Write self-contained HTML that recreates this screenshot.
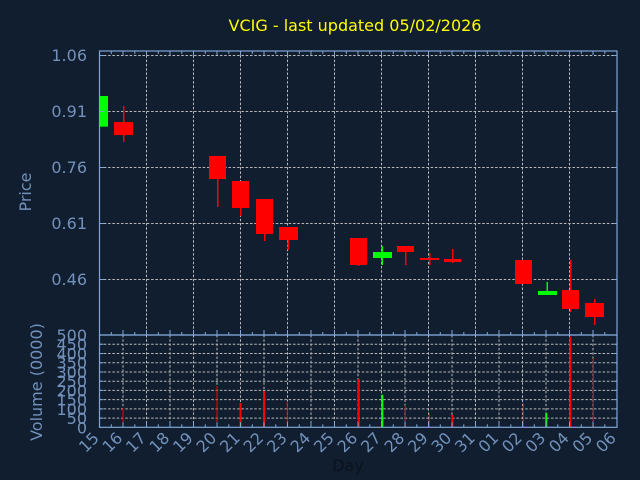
<!DOCTYPE html>
<html><head><meta charset="utf-8"><style>
html,body{margin:0;padding:0;background:#101e2f;}
svg{display:block;}
text{font-family:"DejaVu Sans","Liberation Sans",sans-serif;font-size:16px;}
</style></head><body>
<svg width="640" height="480" viewBox="0 0 640 480" xmlns="http://www.w3.org/2000/svg">
<rect width="640" height="480" fill="#101e2f"/>
<text x="355" y="31" text-anchor="middle" fill="#ffff00">VCIG - last updated 05/02/2026</text>

<!-- price grid -->
<g stroke="#b8b8b8" stroke-width="1" stroke-dasharray="2.5,1.8" fill="none">
<line x1="99.5" y1="55.5" x2="617" y2="55.5"/>
<line x1="99.5" y1="111.5" x2="617" y2="111.5"/>
<line x1="99.5" y1="167.5" x2="617" y2="167.5"/>
<line x1="99.5" y1="223.5" x2="617" y2="223.5"/>
<line x1="99.5" y1="279.5" x2="617" y2="279.5"/>
<line x1="146.5" y1="51" x2="146.5" y2="335"/>
<line x1="193.5" y1="51" x2="193.5" y2="335"/>
<line x1="240.5" y1="51" x2="240.5" y2="335"/>
<line x1="287.5" y1="51" x2="287.5" y2="335"/>
<line x1="334.5" y1="51" x2="334.5" y2="335"/>
<line x1="381.5" y1="51" x2="381.5" y2="335"/>
<line x1="428.5" y1="51" x2="428.5" y2="335"/>
<line x1="475.5" y1="51" x2="475.5" y2="335"/>
<line x1="522.5" y1="51" x2="522.5" y2="335"/>
<line x1="569.5" y1="51" x2="569.5" y2="335"/>
</g>

<!-- volume grid -->
<g stroke="#b8b8b8" stroke-width="1" stroke-dasharray="2.5,1.8" fill="none">
<line x1="99.5" y1="344.3" x2="617" y2="344.3"/>
<line x1="99.5" y1="353.5" x2="617" y2="353.5"/>
<line x1="99.5" y1="362.7" x2="617" y2="362.7"/>
<line x1="99.5" y1="372" x2="617" y2="372"/>
<line x1="99.5" y1="381.2" x2="617" y2="381.2"/>
<line x1="99.5" y1="390.4" x2="617" y2="390.4"/>
<line x1="99.5" y1="399.6" x2="617" y2="399.6"/>
<line x1="99.5" y1="408.9" x2="617" y2="408.9"/>
<line x1="99.5" y1="418.1" x2="617" y2="418.1"/>
<line x1="123" y1="335" x2="123" y2="427"/>
<line x1="146.5" y1="335" x2="146.5" y2="427"/>
<line x1="170" y1="335" x2="170" y2="427"/>
<line x1="193.5" y1="335" x2="193.5" y2="427"/>
<line x1="217" y1="335" x2="217" y2="427"/>
<line x1="240.5" y1="335" x2="240.5" y2="427"/>
<line x1="264" y1="335" x2="264" y2="427"/>
<line x1="287.5" y1="335" x2="287.5" y2="427"/>
<line x1="311" y1="335" x2="311" y2="427"/>
<line x1="334.5" y1="335" x2="334.5" y2="427"/>
<line x1="358" y1="335" x2="358" y2="427"/>
<line x1="381.5" y1="335" x2="381.5" y2="427"/>
<line x1="405" y1="335" x2="405" y2="427"/>
<line x1="428.5" y1="335" x2="428.5" y2="427"/>
<line x1="452" y1="335" x2="452" y2="427"/>
<line x1="475.5" y1="335" x2="475.5" y2="427"/>
<line x1="499" y1="335" x2="499" y2="427"/>
<line x1="522.5" y1="335" x2="522.5" y2="427"/>
<line x1="546" y1="335" x2="546" y2="427"/>
<line x1="569.5" y1="335" x2="569.5" y2="427"/>
<line x1="593" y1="335" x2="593" y2="427"/>
</g>

<!-- candles -->
<g fill="#ff0000">
<rect x="123" y="106" width="1.5" height="36"/>
<rect x="114" y="122" width="19" height="13"/>
<rect x="217" y="170" width="1.5" height="37"/>
<rect x="209" y="156" width="17" height="23"/>
<rect x="240" y="200" width="1.5" height="16"/>
<rect x="232" y="181" width="17" height="27"/>
<rect x="264" y="220" width="1.5" height="21"/>
<rect x="256" y="199" width="17" height="35"/>
<rect x="287.5" y="235" width="1.5" height="15"/>
<rect x="279" y="227" width="19" height="13"/>
<rect x="358" y="255" width="1.5" height="11"/>
<rect x="350" y="238" width="17" height="27"/>
<rect x="405" y="248" width="1.5" height="17"/>
<rect x="397" y="246" width="17" height="6"/>
<rect x="429" y="253" width="1.5" height="12"/>
<rect x="420" y="258" width="19" height="2"/>
<rect x="452" y="249" width="1.5" height="14"/>
<rect x="444" y="259" width="17" height="3"/>
<rect x="515" y="260" width="17" height="24"/>
<rect x="570" y="260" width="1.5" height="52"/>
<rect x="562" y="290" width="17" height="19"/>
<rect x="594" y="299" width="1.5" height="26"/>
<rect x="585" y="303" width="19" height="14"/>
</g>
<g fill="#00ff00">
<rect x="99.5" y="96" width="8.5" height="30.7"/>
<rect x="381.5" y="246" width="1.5" height="19"/>
<rect x="373" y="252" width="19" height="6"/>
<rect x="546.5" y="282" width="1.5" height="13"/>
<rect x="538" y="291" width="19" height="4"/>
</g>

<!-- volume bars -->
<g fill="#ff0000">
<rect x="122.5" y="408" width="1" height="19.3"/>
<rect x="216.5" y="386" width="1" height="41.3"/>
<rect x="239.5" y="403" width="2" height="24.3"/>
<rect x="263" y="391" width="2" height="36.3"/>
<rect x="286.8" y="401" width="1" height="26.3"/>
<rect x="357.7" y="379" width="2" height="48.3"/>
<rect x="404.8" y="405" width="1" height="22.3"/>
<rect x="428.8" y="413" width="1" height="14.3"/>
<rect x="451.3" y="415" width="2" height="12.3"/>
<rect x="522.8" y="403" width="1" height="24.3"/>
<rect x="569.3" y="336.7" width="2" height="90.6"/>
<rect x="592.8" y="358.3" width="1" height="69"/>
</g>
<g fill="#00ff00">
<rect x="381.3" y="394.7" width="2" height="32.6"/>
<rect x="545.3" y="413" width="2" height="14.3"/>
</g>

<!-- axes -->
<g stroke="#80a6d8" stroke-width="1.2" fill="none">
<rect x="99.5" y="51" width="517.5" height="284"/>
<rect x="99.5" y="335" width="517.5" height="92.3"/>
</g>
<!-- ticks -->
<g stroke="#80a6d8" stroke-width="1">
<path d="M111.3 51v3M123 51v4M134.8 51v3M146.5 51v4M158.3 51v3M170 51v4M181.8 51v3M193.5 51v4M205.3 51v3M217 51v4M228.8 51v3M240.5 51v4M252.3 51v3M264 51v4M275.8 51v3M287.5 51v4M299.3 51v3M311 51v4M322.8 51v3M334.5 51v4M346.3 51v3M358 51v4M369.8 51v3M381.5 51v4M393.3 51v3M405 51v4M416.8 51v3M428.5 51v4M440.3 51v3M452 51v4M463.8 51v3M475.5 51v4M487.3 51v3M499 51v4M510.8 51v3M522.5 51v4M534.3 51v3M546 51v4M557.8 51v3M569.5 51v4M581.3 51v3M593 51v4M604.8 51v3"/>
<path d="M111.3 335v-3M123 335v-5M134.8 335v-3M146.5 335v-5M158.3 335v-3M170 335v-5M181.8 335v-3M193.5 335v-5M205.3 335v-3M217 335v-5M228.8 335v-3M240.5 335v-5M252.3 335v-3M264 335v-5M275.8 335v-3M287.5 335v-5M299.3 335v-3M311 335v-5M322.8 335v-3M334.5 335v-5M346.3 335v-3M358 335v-5M369.8 335v-3M381.5 335v-5M393.3 335v-3M405 335v-5M416.8 335v-3M428.5 335v-5M440.3 335v-3M452 335v-5M463.8 335v-3M475.5 335v-5M487.3 335v-3M499 335v-5M510.8 335v-3M522.5 335v-5M534.3 335v-3M546 335v-5M557.8 335v-3M569.5 335v-5M581.3 335v-3M593 335v-5M604.8 335v-3"/>
<path d="M111.3 427.3v-3M123 427.3v-5M134.8 427.3v-3M146.5 427.3v-5M158.3 427.3v-3M170 427.3v-5M181.8 427.3v-3M193.5 427.3v-5M205.3 427.3v-3M217 427.3v-5M228.8 427.3v-3M240.5 427.3v-5M252.3 427.3v-3M264 427.3v-5M275.8 427.3v-3M287.5 427.3v-5M299.3 427.3v-3M311 427.3v-5M322.8 427.3v-3M334.5 427.3v-5M346.3 427.3v-3M358 427.3v-5M369.8 427.3v-3M381.5 427.3v-5M393.3 427.3v-3M405 427.3v-5M416.8 427.3v-3M428.5 427.3v-5M440.3 427.3v-3M452 427.3v-5M463.8 427.3v-3M475.5 427.3v-5M487.3 427.3v-3M499 427.3v-5M510.8 427.3v-3M522.5 427.3v-5M534.3 427.3v-3M546 427.3v-5M557.8 427.3v-3M569.5 427.3v-5M581.3 427.3v-3M593 427.3v-5M604.8 427.3v-3"/>
<path d="M99.5 55.5h5M99.5 111.5h5M99.5 167.5h5M99.5 223.5h5M99.5 279.5h5M617 55.5h-4M617 111.5h-4M617 167.5h-4M617 223.5h-4M617 279.5h-4"/>
<path d="M99.5 344.3h4M99.5 353.5h4M99.5 362.7h4M99.5 372h4M99.5 381.2h4M99.5 390.4h4M99.5 399.6h4M99.5 408.9h4M99.5 418.1h4M617 344.3h-3M617 353.5h-3M617 362.7h-3M617 372h-3M617 381.2h-3M617 390.4h-3M617 399.6h-3M617 408.9h-3M617 418.1h-3"/>
</g>

<!-- y labels -->
<g fill="#7291bb" text-anchor="end">
<text x="87" y="61">1.06</text>
<text x="87" y="117">0.91</text>
<text x="87" y="173">0.76</text>
<text x="87" y="229">0.61</text>
<text x="87" y="285">0.46</text>
<text x="87" y="341">500</text>
<text x="87" y="350.2">450</text>
<text x="87" y="359.5">400</text>
<text x="87" y="368.7">350</text>
<text x="87" y="377.9">300</text>
<text x="87" y="387.1">250</text>
<text x="87" y="396.4">200</text>
<text x="87" y="405.6">150</text>
<text x="87" y="414.8">100</text>
<text x="87" y="424.1">50</text>
<text x="87" y="433.3">0</text>
</g>
<text transform="translate(31,192) rotate(-90)" text-anchor="middle" fill="#7291bb">Price</text>
<text transform="translate(42,382) rotate(-90)" text-anchor="middle" fill="#7291bb">Volume (0000)</text>

<!-- x labels -->
<g fill="#7291bb" text-anchor="end">
<text transform="translate(100,439) rotate(-45)">15</text>
<text transform="translate(123.5,439) rotate(-45)">16</text>
<text transform="translate(147,439) rotate(-45)">17</text>
<text transform="translate(170.5,439) rotate(-45)">18</text>
<text transform="translate(194,439) rotate(-45)">19</text>
<text transform="translate(217.5,439) rotate(-45)">20</text>
<text transform="translate(241,439) rotate(-45)">21</text>
<text transform="translate(264.5,439) rotate(-45)">22</text>
<text transform="translate(288,439) rotate(-45)">23</text>
<text transform="translate(311.5,439) rotate(-45)">24</text>
<text transform="translate(335,439) rotate(-45)">25</text>
<text transform="translate(358.5,439) rotate(-45)">26</text>
<text transform="translate(382,439) rotate(-45)">27</text>
<text transform="translate(405.5,439) rotate(-45)">28</text>
<text transform="translate(429,439) rotate(-45)">29</text>
<text transform="translate(452.5,439) rotate(-45)">30</text>
<text transform="translate(476,439) rotate(-45)">31</text>
<text transform="translate(499.5,439) rotate(-45)">01</text>
<text transform="translate(523,439) rotate(-45)">02</text>
<text transform="translate(546.5,439) rotate(-45)">03</text>
<text transform="translate(570,439) rotate(-45)">04</text>
<text transform="translate(593.5,439) rotate(-45)">05</text>
<text transform="translate(617,439) rotate(-45)">06</text>
</g>
<text x="348" y="471" text-anchor="middle" fill="#0b121c">Day</text>
</svg>
</body></html>
